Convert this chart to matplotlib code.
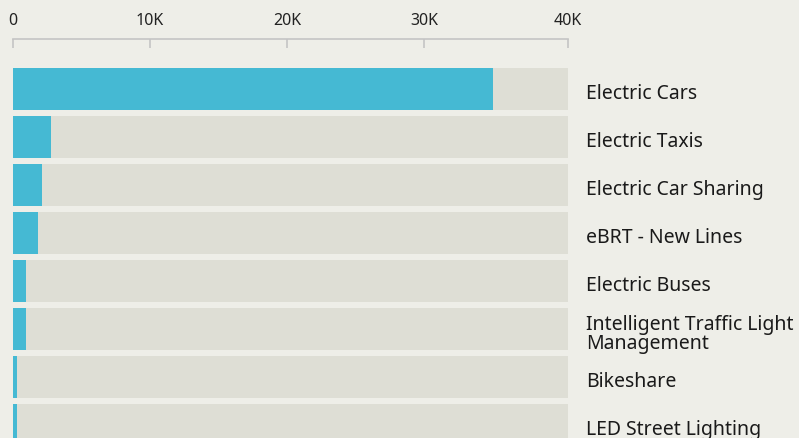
import matplotlib.pyplot as plt
import numpy as np

# project counts by measure
categories = ['Electric Cars', 'Electric Taxis', 'Electric Car Sharing', 'eBRT - New Lines',
              'Electric Buses', 'Intelligent Traffic Light\nManagement', 'Bikeshare',
              'LED Street Lighting']
values = [35000, 2770, 2120, 1830, 950, 950, 290, 290]
x_max = 40500
tick_vals = [0, 10000, 20000, 30000, x_max]
tick_labels = ['0', '10K', '20K', '30K', '40K']

bg = '#eeeee8'
track = '#deded5'
blue = '#45b9d3'
axis_col = '#c4c4c4'

plt.rcParams['font.family'] = ['Noto Sans', 'DejaVu Sans']

fig = plt.figure(figsize=(7.99, 4.39), dpi=100, facecolor=bg)
W, H = 799, 439
# axes spans the axis line (y=40px) down to the bottom edge
ax = fig.add_axes([13 / W, 0, 555 / W, (H - 40) / H])
ax.set_facecolor(bg)

y = np.arange(len(categories))
bh = 42 / 48
ax.barh(y, [x_max] * len(y), height=bh, color=track, zorder=1)
ax.barh(y, values, height=bh, color=blue, zorder=2)

ax.set_xlim(0, x_max)
ax.set_ylim((H - 89.5) / 48, -49.5 / 48)

for s in ['left', 'right', 'bottom']:
    ax.spines[s].set_visible(False)
ax.spines['top'].set_color(axis_col)
ax.spines['top'].set_linewidth(1.2)

ax.xaxis.tick_top()
ax.set_xticks(tick_vals)
ax.set_xticklabels(tick_labels)
ax.tick_params(axis='x', direction='in', length=6.5, width=1.2, color=axis_col,
               pad=8, labelsize=11.5, labelcolor='#222222')
ax.set_yticks([])

for i, lab in enumerate(categories):
    ax.text(x_max + 1300, i + 0.1, lab, ha='left', va='center', fontsize=14,
            color='#1a1a1a', linespacing=0.95, clip_on=False)

fig.savefig('out.png', dpi=100, facecolor=bg)
